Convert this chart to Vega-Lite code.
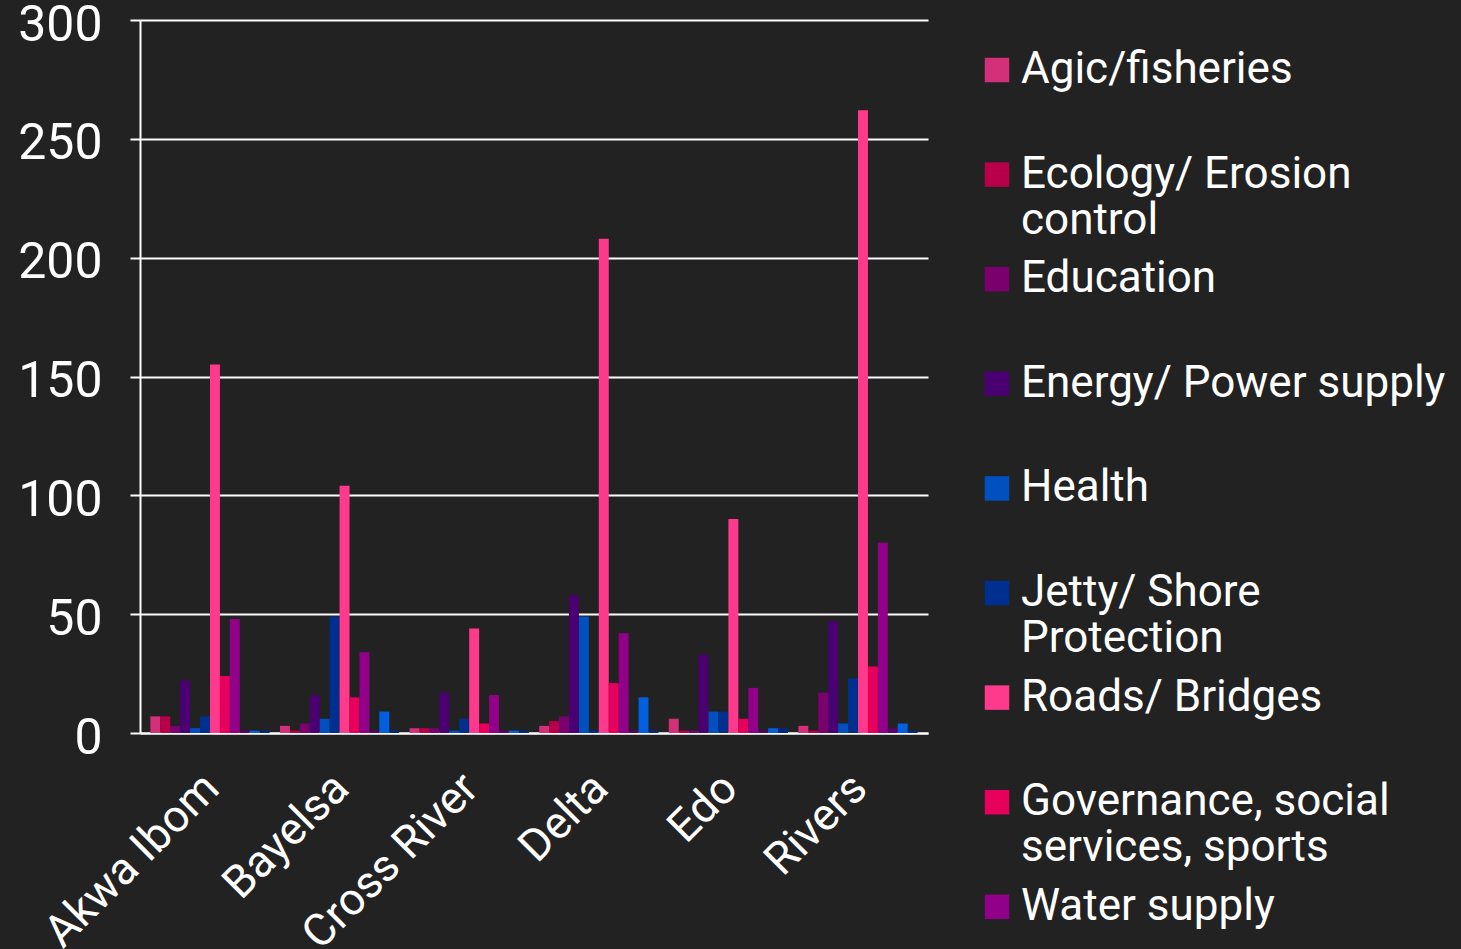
{
  "$schema": "https://vega.github.io/schema/vega-lite/v6.json",
  "width": 788,
  "height": 713,
  "autosize": {"type": "none"},
  "padding": {"left": 140, "top": 20, "right": 533, "bottom": 216},
  "background": "#222222",
  "config": {"view": {"stroke": null}, "font": "Roboto"},
  "data": {
    "values": [
      {"state": "Akwa Ibom", "sector": "Agic/fisheries", "value": 7},
      {"state": "Akwa Ibom", "sector": "Ecology/ Erosion control", "value": 7},
      {"state": "Akwa Ibom", "sector": "Education", "value": 3},
      {"state": "Akwa Ibom", "sector": "Energy/ Power supply", "value": 22},
      {"state": "Akwa Ibom", "sector": "Health", "value": 2},
      {"state": "Akwa Ibom", "sector": "Jetty/ Shore Protection", "value": 7},
      {"state": "Akwa Ibom", "sector": "Roads/ Bridges", "value": 155},
      {"state": "Akwa Ibom", "sector": "Governance, social services, sports", "value": 24},
      {"state": "Akwa Ibom", "sector": "Water supply", "value": 48},
      {"state": "Akwa Ibom", "sector": "Other 1", "value": 1},
      {"state": "Akwa Ibom", "sector": "Other 2", "value": 1},
      {"state": "Akwa Ibom", "sector": "Other 3", "value": 1},
      {"state": "Bayelsa", "sector": "Agic/fisheries", "value": 3},
      {"state": "Bayelsa", "sector": "Ecology/ Erosion control", "value": 1},
      {"state": "Bayelsa", "sector": "Education", "value": 4},
      {"state": "Bayelsa", "sector": "Energy/ Power supply", "value": 16},
      {"state": "Bayelsa", "sector": "Health", "value": 6},
      {"state": "Bayelsa", "sector": "Jetty/ Shore Protection", "value": 49},
      {"state": "Bayelsa", "sector": "Roads/ Bridges", "value": 104},
      {"state": "Bayelsa", "sector": "Governance, social services, sports", "value": 15},
      {"state": "Bayelsa", "sector": "Water supply", "value": 34},
      {"state": "Bayelsa", "sector": "Other 1", "value": 1},
      {"state": "Bayelsa", "sector": "Other 2", "value": 9},
      {"state": "Bayelsa", "sector": "Other 3", "value": 1},
      {"state": "Cross River", "sector": "Agic/fisheries", "value": 2},
      {"state": "Cross River", "sector": "Ecology/ Erosion control", "value": 2},
      {"state": "Cross River", "sector": "Education", "value": 2},
      {"state": "Cross River", "sector": "Energy/ Power supply", "value": 17},
      {"state": "Cross River", "sector": "Health", "value": 1},
      {"state": "Cross River", "sector": "Jetty/ Shore Protection", "value": 6},
      {"state": "Cross River", "sector": "Roads/ Bridges", "value": 44},
      {"state": "Cross River", "sector": "Governance, social services, sports", "value": 4},
      {"state": "Cross River", "sector": "Water supply", "value": 16},
      {"state": "Cross River", "sector": "Other 1", "value": 1},
      {"state": "Cross River", "sector": "Other 2", "value": 1},
      {"state": "Cross River", "sector": "Other 3", "value": 1},
      {"state": "Delta", "sector": "Agic/fisheries", "value": 3},
      {"state": "Delta", "sector": "Ecology/ Erosion control", "value": 5},
      {"state": "Delta", "sector": "Education", "value": 7},
      {"state": "Delta", "sector": "Energy/ Power supply", "value": 58},
      {"state": "Delta", "sector": "Health", "value": 49},
      {"state": "Delta", "sector": "Jetty/ Shore Protection", "value": 1},
      {"state": "Delta", "sector": "Roads/ Bridges", "value": 208},
      {"state": "Delta", "sector": "Governance, social services, sports", "value": 21},
      {"state": "Delta", "sector": "Water supply", "value": 42},
      {"state": "Delta", "sector": "Other 1", "value": 1},
      {"state": "Delta", "sector": "Other 2", "value": 15},
      {"state": "Delta", "sector": "Other 3", "value": 1},
      {"state": "Edo", "sector": "Agic/fisheries", "value": 6},
      {"state": "Edo", "sector": "Ecology/ Erosion control", "value": 1},
      {"state": "Edo", "sector": "Education", "value": 1},
      {"state": "Edo", "sector": "Energy/ Power supply", "value": 33},
      {"state": "Edo", "sector": "Health", "value": 9},
      {"state": "Edo", "sector": "Jetty/ Shore Protection", "value": 9},
      {"state": "Edo", "sector": "Roads/ Bridges", "value": 90},
      {"state": "Edo", "sector": "Governance, social services, sports", "value": 6},
      {"state": "Edo", "sector": "Water supply", "value": 19},
      {"state": "Edo", "sector": "Other 1", "value": 1},
      {"state": "Edo", "sector": "Other 2", "value": 2},
      {"state": "Edo", "sector": "Other 3", "value": 2},
      {"state": "Rivers", "sector": "Agic/fisheries", "value": 3},
      {"state": "Rivers", "sector": "Ecology/ Erosion control", "value": 1},
      {"state": "Rivers", "sector": "Education", "value": 17},
      {"state": "Rivers", "sector": "Energy/ Power supply", "value": 47},
      {"state": "Rivers", "sector": "Health", "value": 4},
      {"state": "Rivers", "sector": "Jetty/ Shore Protection", "value": 23},
      {"state": "Rivers", "sector": "Roads/ Bridges", "value": 262},
      {"state": "Rivers", "sector": "Governance, social services, sports", "value": 28},
      {"state": "Rivers", "sector": "Water supply", "value": 80},
      {"state": "Rivers", "sector": "Other 1", "value": 2},
      {"state": "Rivers", "sector": "Other 2", "value": 4},
      {"state": "Rivers", "sector": "Other 3", "value": 1}
    ]
  },
  "mark": {"type": "bar"},
  "encoding": {
    "x": {
      "field": "state",
      "type": "nominal",
      "sort": ["Akwa Ibom", "Bayelsa", "Cross River", "Delta", "Edo", "Rivers"],
      "scale": {"paddingInner": 0.08, "paddingOuter": 0.08},
      "title": null,
      "axis": {
        "labelAngle": -45,
        "labelFontSize": 45,
        "labelColor": "white",
        "labelPadding": 32,
        "labelOffset": -14,
        "labelLimit": 0,
        "domainColor": "white",
        "domainWidth": 2,
        "ticks": false
      }
    },
    "xOffset": {
      "field": "sector",
      "sort": ["Agic/fisheries", "Ecology/ Erosion control", "Education", "Energy/ Power supply", "Health", "Jetty/ Shore Protection", "Roads/ Bridges", "Governance, social services, sports", "Water supply", "Other 1", "Other 2", "Other 3"],
      "scale": {"paddingInner": 0, "paddingOuter": 0}
    },
    "y": {
      "field": "value",
      "type": "quantitative",
      "scale": {"domain": [0, 300]},
      "title": null,
      "axis": {
        "values": [0, 50, 100, 150, 200, 250, 300],
        "labelFontSize": 50,
        "labelColor": "white",
        "labelPadding": 28,
        "labelOffset": 5,
        "tickSize": 10,
        "tickWidth": 2,
        "tickColor": "white",
        "domainColor": "white",
        "domainWidth": 2,
        "gridColor": "white",
        "gridWidth": 2,
        "gridOpacity": 1
      }
    },
    "color": {
      "field": "sector",
      "type": "nominal",
      "scale": {
        "domain": ["Agic/fisheries", "Ecology/ Erosion control", "Education", "Energy/ Power supply", "Health", "Jetty/ Shore Protection", "Roads/ Bridges", "Governance, social services, sports", "Water supply", "Other 1", "Other 2", "Other 3"],
        "range": ["#D4307A", "#B8004A", "#7A006E", "#4B0072", "#0050C0", "#00308F", "#FF3A8C", "#E6005C", "#92008A", "#5A0070", "#0060E0", "#002A80"]
      },
      "legend": {
        "values": ["Agic/fisheries", "Ecology/ Erosion control", "Education", "Energy/ Power supply", "Health", "Jetty/ Shore Protection", "Roads/ Bridges", "Governance, social services, sports", "Water supply"],
        "title": null,
        "orient": "none",
        "legendX": 835,
        "legendY": 28,
        "padding": 0,
        "gridAlign": "all",
        "symbolType": "square",
        "symbolSize": 600,
        "symbolStrokeWidth": 0,
        "symbolOpacity": 1,
        "labelFontSize": 44,
        "labelColor": "white",
        "labelOffset": 2,
        "labelLimit": 0,
        "labelLineHeight": 55,
        "rowPadding": 14.6,
        "labelExpr": "datum.label == 'Ecology/ Erosion control' ? ['Ecology/ Erosion', 'control'] : datum.label == 'Jetty/ Shore Protection' ? ['Jetty/ Shore', 'Protection'] : datum.label == 'Governance, social services, sports' ? ['Governance, social', 'services, sports'] : datum.label"
      }
    }
  }
}
